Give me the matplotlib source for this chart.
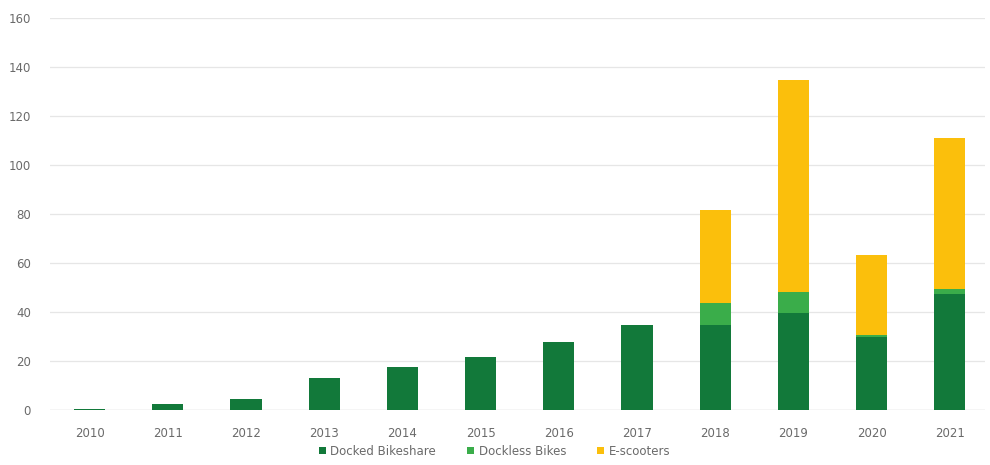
import matplotlib.pyplot as plt
import numpy as np

years = ['2010', '2011', '2012', '2013', '2014', '2015', '2016', '2017', '2018', '2019', '2020', '2021']
docked = [0.3, 2.4, 4.5, 13, 17.5, 21.6, 27.8, 34.7, 34.7, 39.6, 29.8, 47.5]
dockless = [0, 0, 0, 0, 0, 0, 0, 0, 9.1, 8.7, 1.0, 2.0]
scooters = [0, 0, 0, 0, 0, 0, 0, 0, 37.8, 86.4, 32.5, 61.5]

c_docked = '#12793a'
c_dockless = '#3aad4a'
c_scoot = '#fbbf0c'
grey = '#6a6a6a'

fig = plt.figure(figsize=(9.9, 4.65), dpi=100)
ax = fig.add_axes([0.051, 0.118, 0.944, 0.843])

x = np.arange(len(years))
w = 0.4
d = np.array(docked)
dl = np.array(dockless)
ax.bar(x, docked, w, color=c_docked, label='Docked Bikeshare', zorder=3)
ax.bar(x, dockless, w, bottom=d, color=c_dockless, label='Dockless Bikes', zorder=3)
ax.bar(x, scooters, w, bottom=d + dl, color=c_scoot, label='E-scooters', zorder=3)

ax.set_ylim(0, 160)
ax.set_yticks(range(0, 161, 20))
ax.set_xlim(-0.5, 11.45)
ax.set_xticks(x)
ax.set_xticklabels(years)
ax.grid(axis='y', color='#e6e6e6', linewidth=0.9, zorder=0)
for s in ax.spines.values():
    s.set_visible(False)
ax.axhline(0, color='#d0d0d0', linewidth=0.9, zorder=2)
ax.tick_params(axis='both', length=0, labelsize=8.5, labelcolor=grey)
ax.tick_params(axis='x', pad=12)
ax.tick_params(axis='y', pad=14)

ax.legend(loc='upper center', bbox_to_anchor=(0.475, -0.07), ncol=3, frameon=False,
          fontsize=8.5, labelcolor=grey, handlelength=0.6, handleheight=0.6,
          handletextpad=0.4, columnspacing=2.6, borderaxespad=0.2)

fig.savefig('out.png', dpi=100, facecolor='white')
